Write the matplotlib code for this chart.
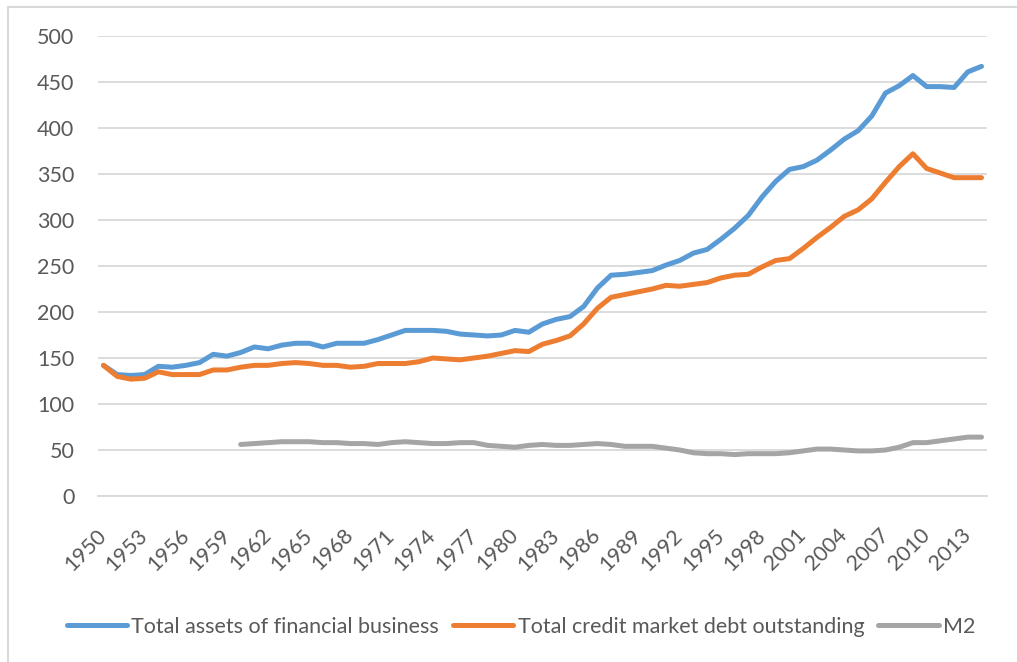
import numpy as np
import matplotlib
matplotlib.use("Agg")
import matplotlib.pyplot as plt
from matplotlib.lines import Line2D

plt.rcParams['font.family'] = ['Lato', 'DejaVu Sans']

years = list(range(1950, 2015))

# Total assets of financial business
total_assets = [
    142, 132, 131, 132, 141, 140, 142, 145, 154, 152,
    156, 162, 160, 164, 166, 166, 162, 166, 166, 166,
    170, 175, 180, 180, 180, 179, 176, 175, 174, 175,
    180, 178, 187, 192, 195, 206, 226, 240, 241, 243,
    245, 251, 256, 264, 268, 279, 291, 305, 325, 342,
    355, 358, 365, 376, 388, 397, 413, 438, 446, 457,
    445, 445, 444, 461, 467,
]

# Total credit market debt outstanding
credit_debt = [
    142, 130, 127, 128, 135, 132, 132, 132, 137, 137,
    140, 142, 142, 144, 145, 144, 142, 142, 140, 141,
    144, 144, 144, 146, 150, 149, 148, 150, 152, 155,
    158, 157, 165, 169, 174, 187, 204, 216, 219, 222,
    225, 229, 228, 230, 232, 237, 240, 241, 249, 256,
    258, 269, 281, 292, 304, 311, 323, 341, 358, 372,
    356, 351, 346, 346, 346,
]

# M2 starts in 1960
m2_years = list(range(1960, 2015))
m2 = [
    56, 57, 58, 59, 59, 59, 58, 58, 57, 57,
    56, 58, 59, 58, 57, 57, 58, 58, 55, 54,
    53, 55, 56, 55, 55, 56, 57, 56, 54, 54,
    54, 52, 50, 47, 46, 46, 45, 46, 46, 46,
    47, 49, 51, 51, 50, 49, 49, 50, 53, 58,
    58, 60, 62, 64, 64,
]

labels = ["Total assets of financial business",
          "Total credit market debt outstanding",
          "M2"]
colors = ["#5B9BD5", "#ED7D31", "#A5A5A5"]

W, H = 1017, 662
fig = plt.figure(figsize=(W / 100, H / 100), dpi=100)
ax = fig.add_axes([98 / W, 1 - 496 / H, (987 - 98) / W, (496 - 36) / H])

lw = 3.6
ax.plot(years, total_assets, color=colors[0], lw=lw, solid_capstyle="round", solid_joinstyle="round")
ax.plot(years, credit_debt, color=colors[1], lw=lw, solid_capstyle="round", solid_joinstyle="round")
ax.plot(m2_years, m2, color=colors[2], lw=lw, solid_capstyle="round", solid_joinstyle="round")

ax.set_xlim(1949.6, 2014.4)
ax.set_ylim(0, 500)
ax.set_yticks(range(0, 501, 50))
ax.set_xticks(years[::3])
ax.set_xticklabels([str(y) for y in years[::3]], rotation=45, ha="right",
                   va="center", rotation_mode="anchor")

ax.grid(axis="y", color="#D9D9D9", lw=1.3)
ax.set_axisbelow(True)
for s in ["top", "right", "left"]:
    ax.spines[s].set_visible(False)
ax.spines["bottom"].set_color("#D9D9D9")
ax.spines["bottom"].set_linewidth(1.3)

ax.tick_params(axis="y", length=0, pad=17, labelsize=15.5, labelcolor="#595959")
ax.tick_params(axis="x", length=0, pad=26, labelsize=15.5, labelcolor="#595959")

# chart area border (top and left edges visible)
fig.add_artist(Line2D([8 / W, 8 / W], [0, 1 - 7 / H], color="#D9D9D9", lw=1.5,
                      transform=fig.transFigure))
fig.add_artist(Line2D([8 / W, 1], [1 - 7 / H, 1 - 7 / H], color="#D9D9D9", lw=1.5,
                      transform=fig.transFigure))

handles = [Line2D([], [], color=c, lw=lw, solid_capstyle="round") for c in colors]
fig.legend(handles, labels, loc="center", bbox_to_anchor=(521 / W, 1 - 627 / H),
           ncol=3, frameon=False, fontsize=15.5, labelcolor="#595959",
           handlelength=2.8, handletextpad=0.2, columnspacing=0.65)

fig.savefig("out.png", dpi=100)
